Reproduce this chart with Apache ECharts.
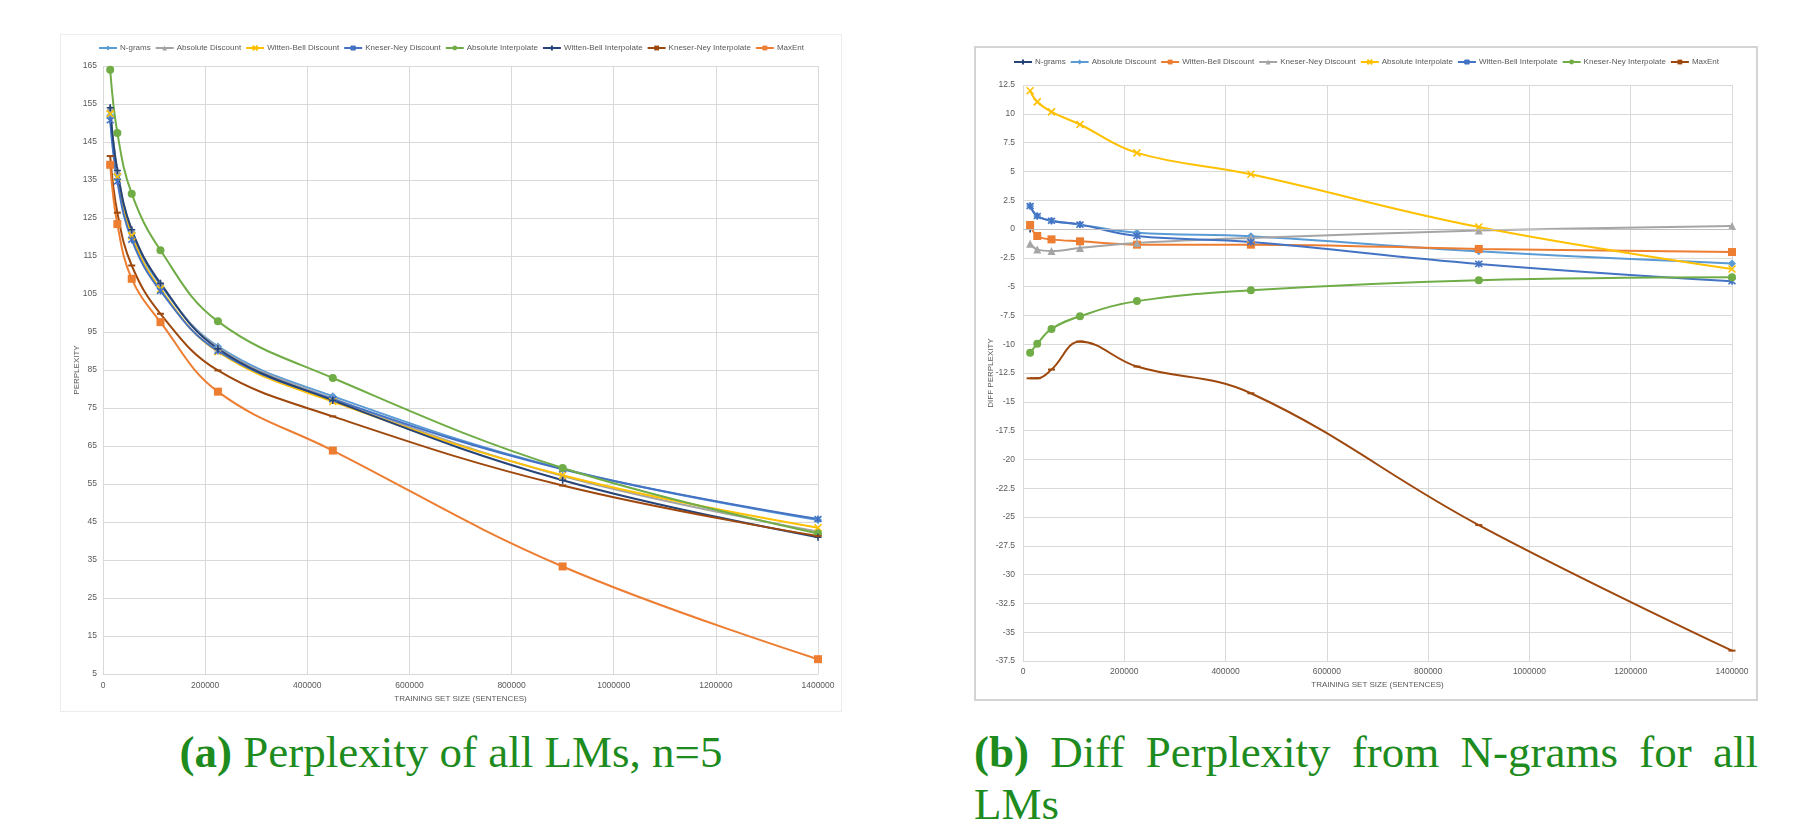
<!DOCTYPE html>
<html>
<head>
<meta charset="utf-8">
<script src="https://cdn.jsdelivr.net/npm/echarts@6.0.0/dist/echarts.min.js"></script>
<style>
  html, body { margin: 0; padding: 0; background: #ffffff; }
  body { width: 1802px; height: 827px; position: relative; overflow: hidden; }
  #perplexity { position: absolute; left: 60px; top: 34px; width: 782px; height: 678px; box-sizing: border-box; border: 1px solid #ececec; }
  #diff { position: absolute; left: 974px; top: 46px; width: 784px; height: 655px; box-sizing: border-box; border: 2px solid #d4d4d4; }
  .caption { position: absolute; font-family: "Liberation Serif", "DejaVu Serif", serif; font-size: 45px; line-height: 52px; color: #1d8b1d; }
  .caption b { font-weight: bold; }
  #capA { left: 60px; top: 726px; width: 782px; text-align: center; }
  #capB { left: 974px; top: 726px; width: 784px; text-align: justify; }
</style>
</head>
<body>
<div id="perplexity"></div>
<div id="diff"></div>
<div class="caption" id="capA"><b>(a)</b> Perplexity of all LMs, n=5</div>
<div class="caption" id="capB"><b>(b)</b> Diff Perplexity from N-grams for all LMs</div>
<script>
// training set sizes (sentences)
const trainingSizes = [14062, 28125, 56250, 112500, 225000, 450000, 900000, 1400000]

// (a) perplexity, n=5
const nGrams = [152.0, 136.4, 121.2, 107.4, 91.2, 78.1, 59.0, 45.5]
const absoluteDiscount = [154.0, 137.5, 121.9, 107.8, 90.9, 77.5, 57.1, 42.5]
const wittenBellDiscount = [152.4, 135.8, 120.3, 106.3, 89.8, 76.7, 57.3, 43.5]
const kneserNeyDiscount = [150.7, 134.6, 119.3, 105.8, 90.0, 77.3, 58.9, 45.8]
const absoluteInterpolate = [164.0, 147.4, 131.4, 116.5, 97.8, 82.9, 59.2, 42.0]
const wittenBellInterpolate = [154.0, 137.5, 121.9, 107.8, 90.6, 77.0, 56.0, 41.0]
const kneserNeyInterpolate = [141.3, 126.4, 112.5, 99.8, 84.9, 72.8, 54.6, 41.3]
const maxEnt = [139.0, 123.4, 109.0, 97.6, 79.3, 63.8, 33.3, 8.9]

// (b) diff perplexity from N-grams
const diffNGrams = [0, null, null, null, null, null, null, null]
const diffAbsoluteDiscount = [2.0, 1.13, 0.72, 0.38, -0.32, -0.64, -1.94, -3.0]
const diffWittenBellDiscount = [0.35, -0.61, -0.9, -1.07, -1.36, -1.36, -1.73, -2.0]
const diffKneserNeyDiscount = [-1.28, -1.77, -1.91, -1.65, -1.22, -0.78, -0.14, 0.26]
const diffAbsoluteInterpolate = [12.0, 11.04, 10.17, 9.07, 6.61, 4.75, 0.17, -3.47]
const diffWittenBellInterpolate = [2.0, 1.13, 0.72, 0.38, -0.61, -1.13, -3.03, -4.54]
const diffKneserNeyInterpolate = [-10.75, -9.97, -8.67, -7.57, -6.26, -5.32, -4.45, -4.19]
const diffMaxEnt = [-12.96, -12.96, -12.2, -9.77, -11.94, -14.26, -25.7, -36.6]

const C = {
  blue: '#5b9bd5', orange: '#ed7d31', gray: '#a5a5a5', gold: '#ffc000',
  mid: '#4472c4', green: '#70ad47', navy: '#264478', brown: '#9e480e'
}

// excel-ish markers
const MARK = {
  diamond: { symbol: 'diamond', size: 8 },
  triangle: { symbol: 'triangle', size: 8 },
  cross: { symbol: 'path://M0,0L10,10M10,0L0,10', size: 7, stroke: true },
  star: { symbol: 'path://M0,0L10,10M10,0L0,10M5,-1L5,11', size: 7, stroke: true },
  plus: { symbol: 'path://M5,0L5,10M0,5L10,5', size: 7, stroke: true },
  circle: { symbol: 'circle', size: 8 },
  dash: { symbol: 'rect', size: [7, 2] },
  square: { symbol: 'rect', size: 8 }
}

const textColor = '#595959'
const gridColor = '#d9d9d9'
const font = 'Liberation Sans, Arial, sans-serif'

function makeSeries(name, values, color, mark) {
  return {
    name,
    type: 'line',
    smooth: 0.4,
    connectNulls: false,
    data: trainingSizes.map((x, i) => [x, values[i]]),
    symbol: mark.symbol,
    symbolSize: mark.size,
    showSymbol: true,
    lineStyle: { color, width: 2 },
    itemStyle: mark.stroke
      ? { color, borderColor: color, borderWidth: 1.6 }
      : { color, borderWidth: 0 },
    emphasis: { disabled: true }
  }
}

function legendOpts(top) {
  return {
    left: 'center', top,
    itemWidth: 18, itemHeight: 6, itemGap: 4,
    textStyle: { color: textColor, fontSize: 8, fontFamily: font, padding: [0, 0, 0, -2] }
  }
}

function xAxisOpts(labelMargin, nameGap) {
  return {
    type: 'value',
    min: 0, max: 1400000, interval: 200000,
    name: 'TRAINING SET SIZE (SENTENCES)',
    nameLocation: 'middle',
    nameGap,
    nameMoveOverlap: false,
    nameTextStyle: { color: textColor, fontSize: 8, fontFamily: font },
    axisLine: { show: true, onZero: false, lineStyle: { color: gridColor } },
    axisTick: { show: false },
    axisLabel: { color: textColor, fontSize: 8.5, fontFamily: font, margin: labelMargin, formatter: v => String(v) },
    splitLine: { show: true, lineStyle: { color: gridColor, width: 1 } }
  }
}

const perplexityChart = echarts.init(document.getElementById('perplexity'))
perplexityChart.setOption({
  animation: false,
  backgroundColor: '#ffffff',
  legend: legendOpts(4),
  grid: { left: 42, top: 31, right: 23, bottom: 37, containLabel: false, outerBoundsMode: 'none' },
  xAxis: xAxisOpts(7, 21),
  yAxis: {
    type: 'value',
    min: 5, max: 165, interval: 10,
    name: 'PERPLEXITY',
    nameLocation: 'middle',
    nameGap: 22,
    nameMoveOverlap: false,
    nameTextStyle: { color: textColor, fontSize: 8, fontFamily: font },
    axisLine: { show: false },
    axisTick: { show: false },
    axisLabel: { color: textColor, fontSize: 8.5, fontFamily: font, margin: 6 },
    splitLine: { show: true, lineStyle: { color: gridColor, width: 1 } }
  },
  series: [
    makeSeries('N-grams', nGrams, C.blue, MARK.diamond),
    makeSeries('Absolute Discount', absoluteDiscount, C.gray, MARK.triangle),
    makeSeries('Witten-Bell Discount', wittenBellDiscount, C.gold, MARK.cross),
    makeSeries('Kneser-Ney Discount', kneserNeyDiscount, C.mid, MARK.star),
    makeSeries('Absolute Interpolate', absoluteInterpolate, C.green, MARK.circle),
    makeSeries('Witten-Bell Interpolate', wittenBellInterpolate, C.navy, MARK.plus),
    makeSeries('Kneser-Ney Interpolate', kneserNeyInterpolate, C.brown, MARK.dash),
    makeSeries('MaxEnt', maxEnt, C.orange, MARK.square)
  ]
})

const diffChart = echarts.init(document.getElementById('diff'))
const diffSeries = [
  makeSeries('N-grams', diffNGrams, C.navy, MARK.plus),
  makeSeries('Absolute Discount', diffAbsoluteDiscount, C.blue, MARK.diamond),
  makeSeries('Witten-Bell Discount', diffWittenBellDiscount, C.orange, MARK.square),
  makeSeries('Kneser-Ney Discount', diffKneserNeyDiscount, C.gray, MARK.triangle),
  makeSeries('Absolute Interpolate', diffAbsoluteInterpolate, C.gold, MARK.cross),
  makeSeries('Witten-Bell Interpolate', diffWittenBellInterpolate, C.mid, MARK.star),
  makeSeries('Kneser-Ney Interpolate', diffKneserNeyInterpolate, C.green, MARK.circle),
  makeSeries('MaxEnt', diffMaxEnt, C.brown, MARK.dash)
]
// horizontal axis crosses at zero
diffSeries[0].markLine = {
  silent: true, symbol: 'none', label: { show: false },
  lineStyle: { color: '#bfbfbf', width: 1, type: 'solid' },
  data: [{ yAxis: 0 }]
}
diffSeries[0].z = 1

diffChart.setOption({
  animation: false,
  backgroundColor: '#ffffff',
  legend: legendOpts(5),
  grid: { left: 47, top: 37, right: 24, bottom: 38, containLabel: false, outerBoundsMode: 'none' },
  xAxis: xAxisOpts(6, 20),
  yAxis: {
    type: 'value',
    min: -37.5, max: 12.5, interval: 2.5,
    name: 'DIFF PERPLEXITY',
    nameLocation: 'middle',
    nameGap: 28,
    nameMoveOverlap: false,
    nameTextStyle: { color: textColor, fontSize: 8, fontFamily: font },
    axisLine: { show: false },
    axisTick: { show: false },
    axisLabel: { color: textColor, fontSize: 8.5, fontFamily: font, margin: 8 },
    splitLine: { show: true, lineStyle: { color: gridColor, width: 1 } }
  },
  series: diffSeries
})
</script>
</body>
</html>
